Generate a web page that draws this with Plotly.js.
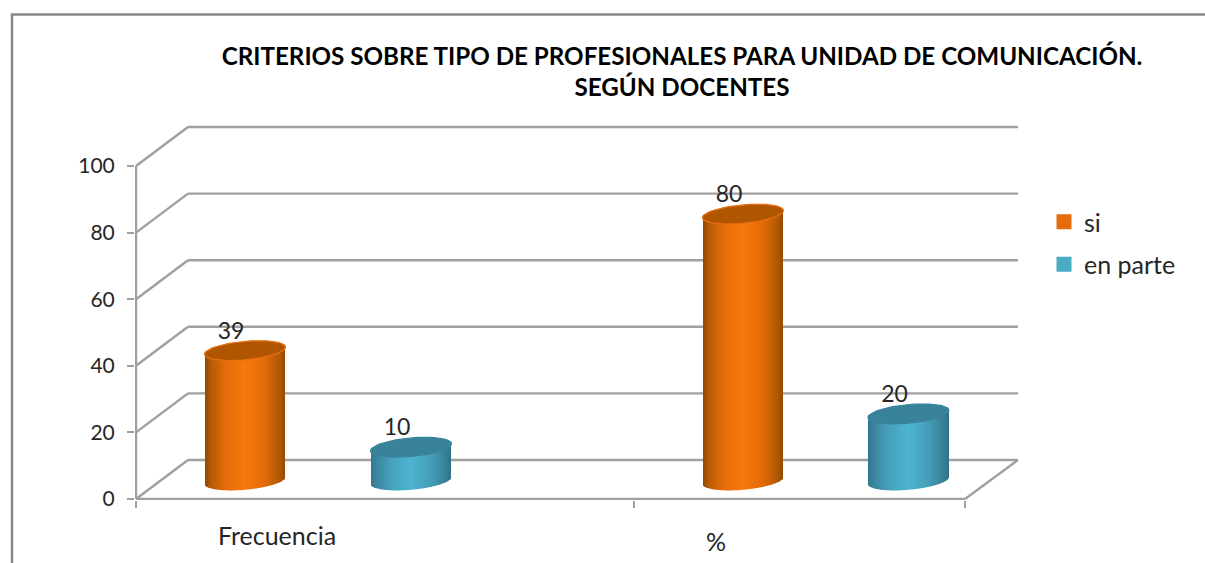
<!DOCTYPE html>
<html><head><meta charset="utf-8">
<script src="https://cdn.plot.ly/plotly-3.0.1.min.js"></script>
<style>html,body{margin:0;padding:0;background:#fff;overflow:hidden}#chart{width:1205px;height:563px}</style>
</head><body><div id="chart"></div>
<script>
// ---- data ----
const categories = ['Frecuencia', '%'];
const seriesNames = ['si', 'en parte'];
const siValues = [39, 80];
const enParteValues = [10, 20];
const yTicks = [0, 20, 40, 60, 80, 100];
const titleText = 'CRITERIOS SOBRE TIPO DE PROFESIONALES PARA UNIDAD DE COMUNICACIÓN.<br>SEGÚN DOCENTES';

// ---- geometry of the 3-D look, in px of the plot area ----
const W = 882, H = 375, PX_PER_UNIT = 3.33;
const DEPTH_X = 52, DEPTH_Y = 39 / PX_PER_UNIT, FRONT_W = 829;
const BASE = 18.5 / PX_PER_UNIT;         // floor height of cylinder base centre
const RX = 40.5, RY = 9.3 / PX_PER_UNIT, TILT = 3.5 / PX_PER_UNIT;
const centers = { si: [109, 607], parte: [275, 772.5] };
const catLabelX = [141, 580];
const catTickX = [0, 498, 829];
const AXIS = '#a0a0a0';

const orange = { stops: [[-1,[140,70,0]],[-.85,[180,90,4]],[-.5,[228,108,9]],[0,[248,120,11]],[.5,[226,106,8]],[.85,[176,88,3]],[1,[146,72,0]]], top:'#B15600', rim:'#E8700E', flat:'#E46C0A' };
const teal   = { stops: [[-1,[48,118,142]],[-.85,[58,134,158]],[-.5,[70,160,186]],[0,[78,180,210]],[.5,[68,156,182]],[.85,[56,128,150]],[1,[46,112,134]]], top:'#38839A', rim:'#38839A', flat:'#4BACC6' };

function shade(stops, t) {
  for (let i = 1; i < stops.length; i++) {
    if (t <= stops[i][0]) {
      const a = stops[i-1], b = stops[i], f = (t - a[0]) / (b[0] - a[0]);
      return 'rgb(' + a[1].map((c, k) => Math.round(c + (b[1][k] - c) * f)).join(',') + ')';
    }
  }
  return 'rgb(' + stops[stops.length-1][1].join(',') + ')';
}

function cylinder(value, cx, pal, xa) {
  const xs = [], bases = [], hs = [], cols = [], w = [];
  for (let p = Math.ceil(cx - RX) + .5; p < cx + RX; p += 1) {
    const t = Math.max(-1, Math.min(1, (p - cx) / RX));
    const low = BASE + TILT * t - RY * Math.sqrt(1 - t * t);
    const top = BASE + value + TILT * t;
    xs.push(p); bases.push(low); hs.push(top - low); cols.push(shade(pal.stops, t)); w.push(1);
  }
  const ex = [], ey = [];
  for (let i = 0; i <= 72; i++) {
    const a = i / 72 * 2 * Math.PI, t = Math.cos(a);
    ex.push(cx + RX * t);
    ey.push(BASE + value + TILT * t + RY * Math.sin(a));
  }
  return [
    { type:'bar', x:xs, y:hs, base:bases, width:w, xaxis:xa, yaxis:'y', showlegend:false, hoverinfo:'skip',
      marker:{ color:cols, line:{width:0} } },
    { type:'scatter', mode:'lines', x:ex, y:ey, xaxis:xa, yaxis:'y', fill:'toself', fillcolor:pal.top,
      line:{ color:pal.rim, width:1.2 }, showlegend:false, hoverinfo:'skip' }
  ];
}

const traces = [];
categories.forEach((c, i) => {
  const xa = i === 0 ? 'x' : 'x2';
  traces.push(...cylinder(siValues[i], centers.si[i], orange, xa));
  traces.push(...cylinder(enParteValues[i], centers.parte[i], teal, xa));
  traces.push({
    type:'scatter', mode:'text', xaxis:xa, yaxis:'y', showlegend:false, hoverinfo:'skip',
    x:[centers.si[i] - 14, centers.parte[i] - 14],
    y:[BASE + siValues[i] + 5.3, BASE + enParteValues[i] + 5.3],
    text:[String(siValues[i]), String(enParteValues[i])],
    textposition:'middle center',
    textfont:{ family:'Lato', size:23, color:'#262626' }
  });
});
// legend entries
[[seriesNames[0], orange.flat], [seriesNames[1], teal.flat]].forEach(([n, col]) => {
  traces.push({ type:'scatter', mode:'markers', x:[null], y:[null], name:n, legendgroup:n,
    marker:{ symbol:'square', size:15, color:col } });
});

// walls and floor
const shapes = [];
const ln = (x0, y0, x1, y1) => ({ type:'line', xref:'x', yref:'y', x0, y0, x1, y1, layer:'below', line:{ color:AXIS, width:2.4 } });
yTicks.forEach(v => {
  shapes.push(ln(0, v, DEPTH_X, v + DEPTH_Y));
  shapes.push(ln(DEPTH_X, v + DEPTH_Y, W, v + DEPTH_Y));
});
shapes.push(ln(FRONT_W, 0, W, DEPTH_Y));
shapes.push(ln(0, 0, FRONT_W, 0));
shapes.push(ln(0, 0, 0, yTicks[yTicks.length - 1]));
// outer chart frame (paper coordinates from px)
const px = v => (v - 135) / 883, py = v => (500 - v) / 376;
shapes.push({ type:'path', xref:'paper', yref:'paper', layer:'below',
  path:`M ${px(12)} ${py(570)} L ${px(12)} ${py(14.5)} L ${px(1210)} ${py(14.5)}`,
  line:{ color:'#868686', width:2.4 } });

const tickFont = { family:'Lato', size:21, color:'#262626' };
const catFont = { family:'Lato', size:25, color:'#262626' };
const layout = {
  width:1205, height:563, autosize:false,
  margin:{ l:135, r:187, t:124, b:63, pad:0 },
  paper_bgcolor:'#fff', plot_bgcolor:'rgba(0,0,0,0)',
  barmode:'overlay', showlegend:true,
  title:{ text:titleText, xref:'container', yref:'container', x:682/1205, xanchor:'center', y:1-65/563, yanchor:'middle',
    font:{ family:'Lato', size:24.2, weight:700, color:'#000' } },
  font:{ family:'Lato' },
  xaxis:{ range:[-1, W], showgrid:false, zeroline:false, showline:false,
    tickmode:'array', tickvals:[catLabelX[0]], ticktext:[categories[0]], ticks:'', tickfont:catFont, ticklabelstandoff:19,
    minor:{ tickmode:'array', tickvals:catTickX, ticks:'outside', ticklen:7, tickwidth:2, tickcolor:AXIS, showgrid:false } },
  xaxis2:{ range:[-1, W], overlaying:'x', anchor:'y', side:'bottom', showgrid:false, zeroline:false, showline:false,
    tickmode:'array', tickvals:[catLabelX[1]], ticktext:[categories[1]], ticks:'', tickfont:catFont, ticklabelstandoff:25 },
  yaxis:{ range:[-1 / PX_PER_UNIT, H / PX_PER_UNIT], showgrid:false, zeroline:false, showline:false,
    tickmode:'array', tickvals:yTicks, ticks:'outside', ticklen:7, tickwidth:2, tickcolor:AXIS, tickfont:tickFont, ticklabelstandoff:8 },
  legend:{ x:px(1044), xanchor:'left', y:py(199), yanchor:'top', traceorder:'grouped', tracegroupgap:7,
    bgcolor:'rgba(0,0,0,0)', font:{ family:'Lato', size:25, color:'#262626' } },
  shapes
};
Plotly.newPlot('chart', traces, layout, { displayModeBar:false, staticPlot:true });
</script></body></html>
